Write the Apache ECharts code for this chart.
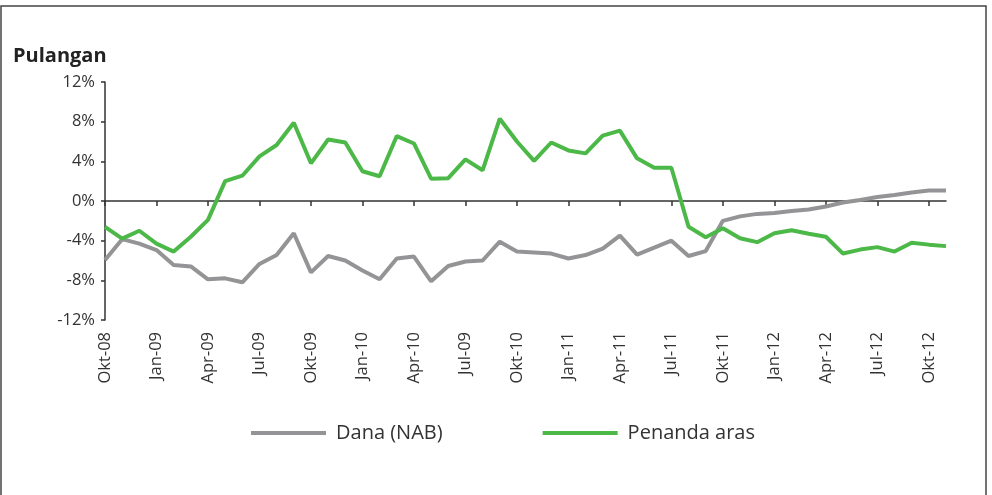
<!DOCTYPE html>
<html lang="ms">
<head>
    <meta charset="UTF-8">
    <title>Pulangan</title>
    <script type="text/javascript" src="https://cdn.jsdelivr.net/npm/echarts@6/dist/echarts.min.js"></script>
    <style>
        html, body { margin: 0; padding: 0; background: #fff; }
        #chart { width: 992px; height: 495px; }
    </style>
</head>
<body>
<div id="chart"></div>

<script type="text/javascript">
    // bulan Okt-08 .. Nov-12
    var months = [
        'Okt-08','Nov-08','Dis-08','Jan-09','Feb-09','Mac-09','Apr-09','Mei-09','Jun-09','Jul-09','Ogo-09','Sep-09',
        'Okt-09','Nov-09','Dis-09','Jan-10','Feb-10','Mac-10','Apr-10','Mei-10','Jun-10','Jul-10','Ogo-10','Sep-10',
        'Okt-10','Nov-10','Dis-10','Jan-11','Feb-11','Mac-11','Apr-11','Mei-11','Jun-11','Jul-11','Ogo-11','Sep-11',
        'Okt-11','Nov-11','Dis-11','Jan-12','Feb-12','Mac-12','Apr-12','Mei-12','Jun-12','Jul-12','Ogo-12','Sep-12',
        'Okt-12','Nov-12'
    ];
    // label paksi x (setiap 3 bulan), seperti dalam gambar asal
    var tickLabels = ['Okt-08','Jan-09','Apr-09','Jul-09','Okt-09','Jan-10','Apr-10','Jul-09','Okt-10',
        'Jan-11','Apr-11','Jul-11','Okt-11','Jan-12','Apr-12','Jul-12','Okt-12'];

    var dana = [
        -5.95, -3.85, -4.3, -4.95, -6.45, -6.6, -7.9, -7.8, -8.2, -6.35, -5.45, -3.25,
        -7.2, -5.55, -6.0, -7.0, -7.9, -5.8, -5.6, -8.1, -6.55, -6.1, -6.0, -4.1,
        -5.1, -5.2, -5.3, -5.8, -5.45, -4.8, -3.5, -5.4, -4.7, -4.0, -5.55, -5.05,
        -2.0, -1.55, -1.3, -1.2, -1.0, -0.85, -0.55, -0.15, 0.1, 0.4, 0.6, 0.85,
        1.05, 1.05
    ];
    var penanda = [
        -2.6, -3.8, -3.0, -4.3, -5.1, -3.6, -1.9, 2.0, 2.55, 4.5, 5.65, 7.9,
        3.8, 6.2, 5.9, 3.0, 2.5, 6.55, 5.8, 2.25, 2.3, 4.2, 3.1, 8.3,
        6.0, 4.05, 5.9, 5.1, 4.8, 6.6, 7.1, 4.3, 3.35, 3.35, -2.6, -3.65,
        -2.75, -3.75, -4.15, -3.25, -2.95, -3.3, -3.6, -5.3, -4.9, -4.65, -5.1, -4.2,
        -4.4, -4.55
    ];

    var font = '"Open Sans", "Noto Sans", sans-serif';
    var myChart = echarts.init(document.getElementById('chart'));
    myChart.setOption({
        animation: false,
        textStyle: { fontFamily: font },
        title: {
            text: 'Pulangan',
            left: 8,
            top: 41,
            textStyle: { fontSize: 20, fontWeight: 'bold', color: '#222', fontFamily: font }
        },
        grid: { left: 105, right: 46, top: 82, bottom: 175 },
        legend: {
            left: 246,
            top: 418,
            icon: 'rect',
            itemWidth: 75,
            itemHeight: 4,
            itemGap: 100,
            textStyle: { fontSize: 20, color: '#333', padding: [0, 0, 0, 5] },
            data: ['Dana (NAB)', 'Penanda aras']
        },
        xAxis: [
            {   // label di bawah
                type: 'category',
                data: months,
                boundaryGap: false,
                position: 'bottom',
                axisLine: { show: false, onZero: false },
                axisTick: { show: false },
                axisLabel: {
                    interval: 2,
                    rotate: 90,
                    margin: 12,
                    fontSize: 16.5,
                    color: '#333',
                    formatter: function (value, index) {
                        return tickLabels[Math.round(index / 3)];
                    }
                }
            },
            {   // garis sifar
                type: 'category',
                data: months,
                boundaryGap: false,
                position: 'top',
                axisLine: { show: true, onZero: true, lineStyle: { color: '#333', width: 1.5 } },
                axisTick: { show: true, interval: 2, inside: true, length: 5, lineStyle: { color: '#333', width: 1.5 } },
                axisLabel: { show: false }
            }
        ],
        yAxis: {
            type: 'value',
            min: -12,
            max: 12,
            interval: 4,
            axisLine: { show: true, lineStyle: { color: '#333', width: 1.5 } },
            axisTick: { show: true, length: 4, lineStyle: { color: '#333', width: 1.5 } },
            splitLine: { show: false },
            axisLabel: { formatter: '{value}%', fontSize: 16.5, color: '#333', margin: 10 }
        },
        graphic: [{
            type: 'rect',
            shape: { x: 1, y: 6, width: 985, height: 500 },
            style: { fill: null, stroke: '#444', lineWidth: 1.5 },
            silent: true
        }],
        series: [
            {
                name: 'Dana (NAB)',
                type: 'line',
                data: dana,
                xAxisIndex: 0,
                showSymbol: false,
                color: '#949496',
                lineStyle: { width: 4 }
            },
            {
                name: 'Penanda aras',
                type: 'line',
                data: penanda,
                xAxisIndex: 0,
                showSymbol: false,
                color: '#4cb848',
                lineStyle: { width: 4 }
            }
        ]
    });
</script>
</body>
</html>
